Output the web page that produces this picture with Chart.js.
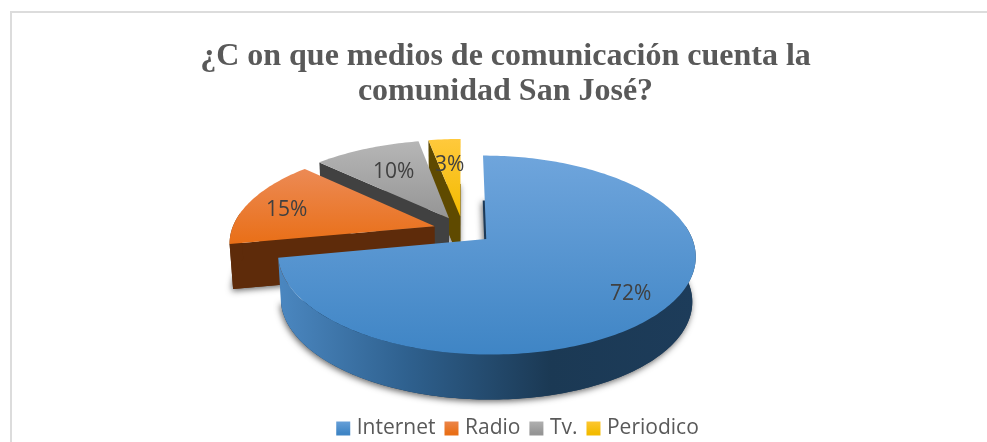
<!DOCTYPE html>
<html>
<head>
<meta charset="utf-8">
<script src="https://cdn.jsdelivr.net/npm/chart.js@4"></script>
<style>
html, body { margin: 0; padding: 0; background: #fff; }
#wrap { position: relative; width: 987px; height: 442px; overflow: hidden; }
#frame { position: absolute; left: 10px; top: 11px; right: -4px; bottom: -4px; border: 2px solid #dcdcdc; }
canvas { position: absolute; left: 0; top: 0; }
</style>
</head>
<body>
<div id="wrap">
<div id="frame"></div>
<canvas id="chart" width="987" height="442"></canvas>
</div>
<script>
const categories = ['Internet', 'Radio', 'Tv.', 'Periodico'];
const values = [72, 15, 10, 3];
const title = ['¿C on que medios de comunicación cuenta la', 'comunidad San José?'];

const topColors = [['#6fa5dc', '#3f85c5'], ['#ec8a55', '#e96f17'], ['#b6b6b6', '#959595'], ['#ffc93c', '#f3bb00']];
const wallColors = ['#1c3a58', '#5e2b0a', '#414141', '#5f4a00'];

// look of the tilted pie, the slices themselves come from the arc elements
const view = { cx: 463, cy: 230, rx: 203, ry: 94, persp: 0.16, depth: 45, shrink: 0.985 };
const labelAt = [0.82, 0.78, 0.64, 0.64];
const labelSweep = [0.5, 0.45, 0.5, 0.5];

function project(el, angle, r, low) {
	const mid = (el.startAngle + el.endAngle) / 2;
	const e = el.options.offset / el.outerRadius;
	const u = e * Math.cos(mid) + r * Math.cos(angle);
	const v = e * Math.sin(mid) + r * Math.sin(angle);
	const k = 1 - view.persp * v;
	let x = view.rx * u / k;
	let y = view.ry * v / k;
	if (low) {
		x *= view.shrink;
		y += view.depth;
	}
	return [view.cx + x, view.cy + y];
}

function path(ctx, pts) {
	ctx.beginPath();
	pts.forEach((p, i) => (i ? ctx.lineTo(p[0], p[1]) : ctx.moveTo(p[0], p[1])));
	ctx.closePath();
}

function arcPts(el, from, to, r, low) {
	const pts = [];
	const steps = Math.max(2, Math.ceil((to - from) / 0.02));
	for (let i = 0; i <= steps; i++) {
		pts.push(project(el, from + (to - from) * i / steps, r, low));
	}
	return pts;
}

const tiltedPie = {
	id: 'tiltedPie',
	afterLayout(chart) {
		// legend sits a bit right of the title and lower than the default
		const lg = chart.legend;
		lg.left += 14;
		lg.right += 14;
		lg.top += 7;
		lg.bottom += 7;
		lg.legendHitBoxes.forEach(b => { b.left += 14; b.top += 7; });
	},
	beforeDatasetsDraw(chart) {
		const ctx = chart.ctx;
		const arcs = chart.getDatasetMeta(0).data;
		const total = values.reduce((a, b) => a + b, 0);

		for (let i = arcs.length - 1; i >= 0; i--) {
			const el = arcs[i];
			const a0 = el.startAngle;
			const a1 = el.endAngle;
			const apex = project(el, a0, 0, false);
			const apexLow = project(el, a0, 0, true);
			const face = [apex].concat(arcPts(el, a0, a1, 1, false));
			const faceLow = [apexLow].concat(arcPts(el, a0, a1, 1, true));

			// soft shadow under the slice
			ctx.save();
			ctx.shadowColor = 'rgba(0,0,0,0.6)';
			ctx.shadowBlur = 6;
			ctx.shadowOffsetX = -1;
			ctx.shadowOffsetY = 2;
			ctx.fillStyle = wallColors[i];
			path(ctx, faceLow);
			ctx.fill();
			ctx.restore();

			ctx.fillStyle = wallColors[i];
			// cut sides, only the ones turned to the viewer
			if (Math.sin(a0 - Math.PI / 2) > 0.01) {
				path(ctx, [apex, project(el, a0, 1, false), project(el, a0, 1, true), apexLow]);
				ctx.fill();
			}
			if (Math.sin(a1 + Math.PI / 2) > 0.01) {
				path(ctx, [apex, project(el, a1, 1, false), project(el, a1, 1, true), apexLow]);
				ctx.fill();
			}

			// rim
			const from = Math.max(a0, -0.14);
			const to = Math.min(a1, Math.PI + 0.14);
			if (to > from) {
				const upper = arcPts(el, from, to, 1, false);
				const lower = arcPts(el, from, to, 1, true).reverse();
				if (i === 0) {
					const g = ctx.createLinearGradient(282, 0, 695, 0);
					g.addColorStop(0, '#4a86bf');
					g.addColorStop(0.3, '#2f618f');
					g.addColorStop(0.65, '#1b3954');
					g.addColorStop(1, '#1d3c5a');
					ctx.fillStyle = g;
				}
				path(ctx, upper.concat(lower));
				ctx.fill();
			}

			// top
			const ys = face.map(p => p[1]);
			const grad = ctx.createLinearGradient(0, Math.min(...ys), 0, Math.max(...ys));
			grad.addColorStop(0, topColors[i][0]);
			grad.addColorStop(1, topColors[i][1]);
			ctx.fillStyle = grad;
			path(ctx, face);
			ctx.fill();
		}

		ctx.save();
		ctx.font = '21px "Open Sans"';
		ctx.fillStyle = '#404040';
		ctx.textAlign = 'center';
		ctx.textBaseline = 'middle';
		arcs.forEach((el, i) => {
			const at = el.startAngle + (el.endAngle - el.startAngle) * labelSweep[i];
			const p = project(el, at, labelAt[i], false);
			ctx.fillText(Math.round(values[i] / total * 100) + '%', p[0], p[1]);
		});
		ctx.restore();
		return false;
	},
};

new Chart(document.getElementById('chart'), {
	type: 'pie',
	data: {
		labels: categories,
		datasets: [{
			data: values,
			backgroundColor: topColors.map(c => c[1]),
			offset: 19,
			borderWidth: 0,
		}],
	},
	options: {
		responsive: false,
		animation: false,
		layout: { padding: { left: 24, top: 20, bottom: 0 } },
		plugins: {
			title: {
				display: true,
				text: title,
				color: '#595959',
				font: { family: '"Liberation Serif"', size: 32, weight: 'bold', lineHeight: 1.1 },
				padding: { top: 19, bottom: 10 },
			},
			legend: {
				position: 'bottom',
				labels: {
					color: '#595959',
					font: { family: '"Open Sans"', size: 21 },
					usePointStyle: true,
					pointStyle: 'rect',
					boxWidth: 6,
					boxHeight: 14,
					padding: 13,
					generateLabels(chart) {
						const g = chart.ctx;
						return categories.map((name, i) => {
							const fill = g.createLinearGradient(0, 419, 0, 433);
							fill.addColorStop(0, topColors[i][0]);
							fill.addColorStop(1, topColors[i][1]);
							return { text: name, fillStyle: fill, strokeStyle: 'transparent', lineWidth: 0, pointStyle: 'rect', index: i, fontColor: '#595959' };
						});
					},
				},
			},
			tooltip: { enabled: false },
		},
	},
	plugins: [tiltedPie],
});
</script>
</body>
</html>
